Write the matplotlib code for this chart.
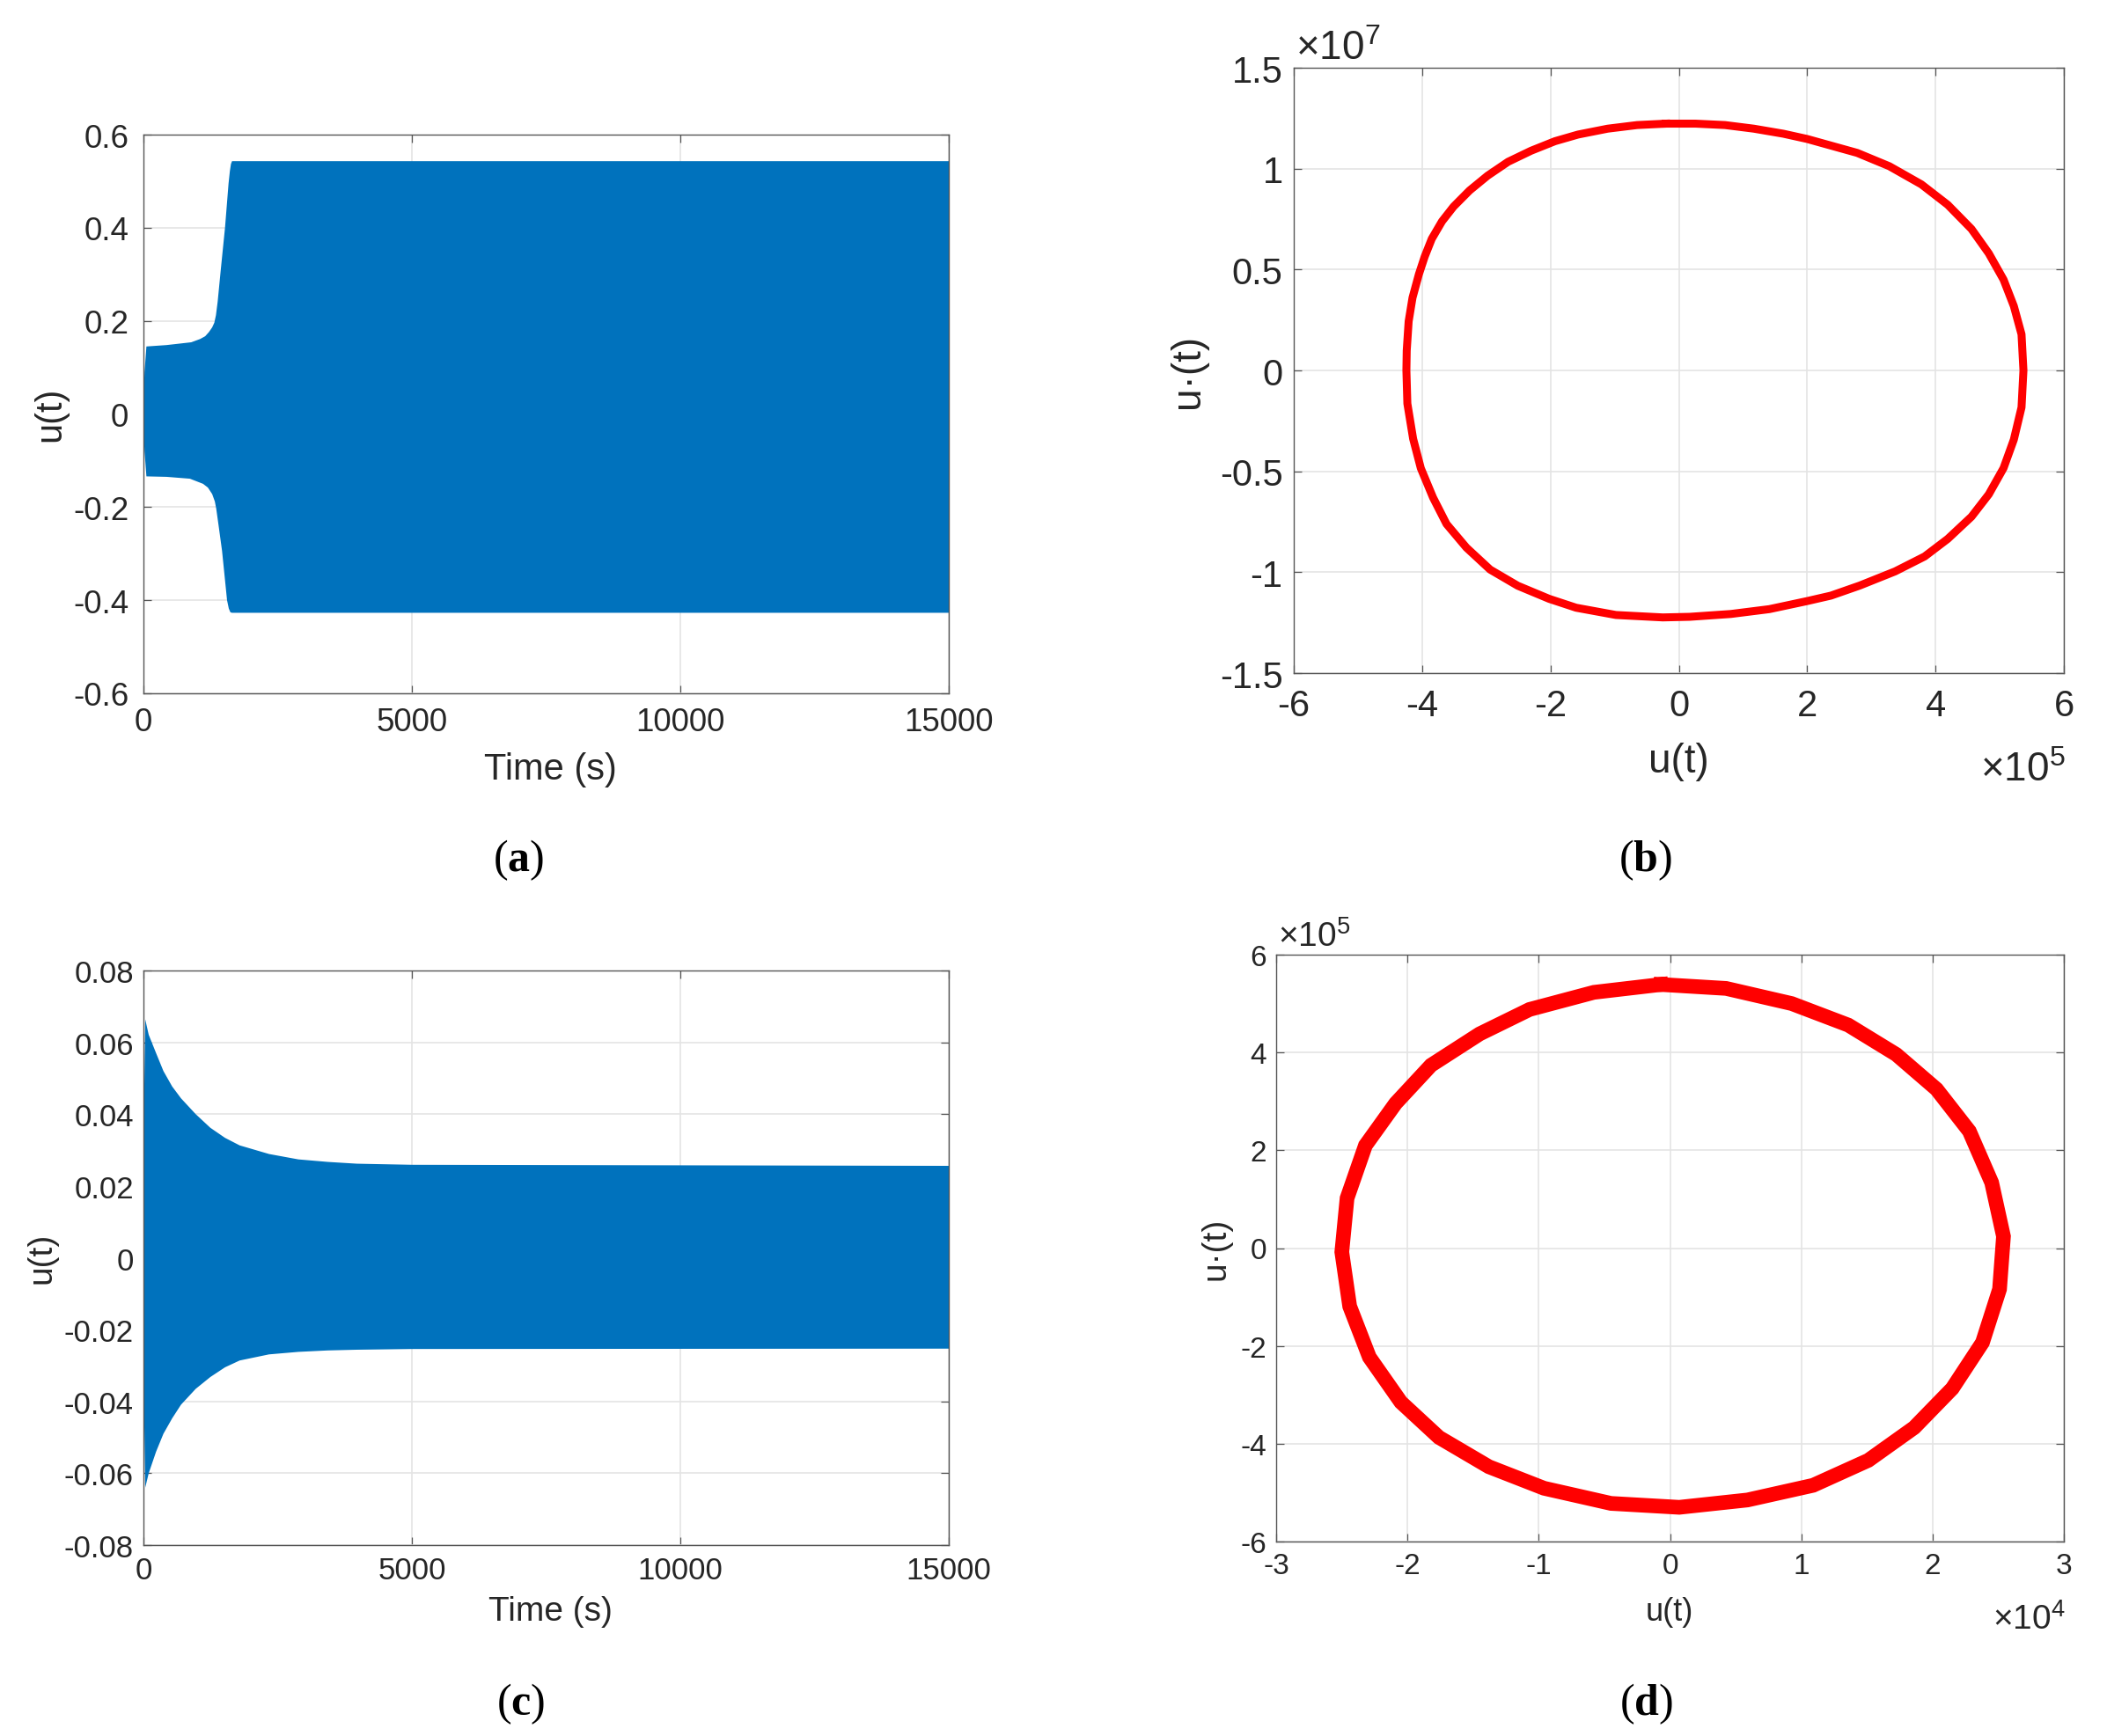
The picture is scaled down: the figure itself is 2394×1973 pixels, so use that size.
import matplotlib
matplotlib.use('Agg')
import matplotlib.pyplot as plt
import numpy as np

plt.rcParams['font.family'] = ['Liberation Sans', 'DejaVu Sans']
plt.rcParams['axes.unicode_minus'] = False
plt.rcParams['mathtext.fontset'] = 'custom'
plt.rcParams['mathtext.rm'] = 'Liberation Serif'
plt.rcParams['mathtext.bf'] = 'Liberation Serif:bold'

# (a) envelope of the dense u(t) oscillation
a_t_upper = [0, 20, 55, 430, 890, 1055, 1150, 1220, 1280, 1320, 1350, 1382, 1437, 1519, 1585, 1610, 1630, 1650, 15000]
a_u_upper = [0.02, 0.09, 0.145, 0.148, 0.154, 0.161, 0.167, 0.176, 0.186, 0.196, 0.212, 0.241, 0.306, 0.400,
             0.495, 0.522, 0.537, 0.543, 0.543]
a_t_lower = [0, 20, 55, 430, 865, 1110, 1200, 1280, 1330, 1355, 1400, 1464, 1557, 1590, 1620, 1650, 15000]
a_u_lower = [-0.02, -0.08, -0.134, -0.135, -0.139, -0.150, -0.158, -0.172, -0.188, -0.203, -0.240, -0.294,
             -0.400, -0.418, -0.426, -0.427, -0.427]

# (b) phase portrait, u in 1e5, u' in 1e7
b_u = [-0.20, 0.26, 0.72, 1.17, 1.63, 2.0, 2.78, 3.28, 3.78, 4.19, 4.56, 4.83, 5.06, 5.22, 5.34, 5.37,
       5.34, 5.22, 5.06, 4.83, 4.56, 4.19, 3.83, 3.37, 2.82, 2.37, 2.0, 1.41, 0.81, 0.17, -0.25,
       -0.98, -1.60, -2.02, -2.51, -2.94, -3.31, -3.62, -3.83, -4.02, -4.14, -4.23, -4.245,
       -4.24, -4.21, -4.15, -4.05, -3.96, -3.85, -3.69, -3.51, -3.26, -2.98, -2.66, -2.30, -1.93,
       -1.57, -1.11, -0.65, -0.20]
b_du = [1.223, 1.223, 1.216, 1.198, 1.173, 1.147, 1.078, 1.012, 0.922, 0.821, 0.701, 0.580, 0.450, 0.319, 0.179, 0.0,
        -0.183, -0.343, -0.484, -0.614, -0.725, -0.835, -0.922, -0.996, -1.066, -1.116, -1.143, -1.183, -1.207, -1.221, -1.224,
        -1.212, -1.176, -1.132, -1.067, -0.987, -0.878, -0.761, -0.63, -0.485, -0.339, -0.164, 0.0,
        0.098, 0.243, 0.36, 0.477, 0.564, 0.652, 0.739, 0.812, 0.892, 0.965, 1.034, 1.089, 1.136,
        1.169, 1.198, 1.216, 1.223]

# (c) envelope of decaying u(t)
c_t = [0, 33, 98, 235, 372, 535, 700, 973, 1246, 1519, 1792, 2339, 2885, 3432, 3978, 5000, 15000]
c_u_upper = [0.03, 0.0664, 0.0621, 0.057, 0.052, 0.0477, 0.0444, 0.040, 0.0362, 0.0334, 0.0313,
             0.0289, 0.0274, 0.0267, 0.0262, 0.0259, 0.0256]
c_u_lower = [-0.03, -0.064, -0.060, -0.054, -0.049, -0.0447, -0.0409, -0.0365, -0.0332, -0.0305, -0.0286,
             -0.0269, -0.0262, -0.0258, -0.0256, -0.0254, -0.0253]

# (d) phase portrait, u in 1e4, u' in 1e5
d_u = [-0.069, 0.427, 0.927, 1.358, 1.723, 2.03, 2.28, 2.45, 2.54, 2.51, 2.38, 2.15, 1.86, 1.51, 1.09,
       0.59, 0.07, -0.45, -0.96, -1.38, -1.76, -2.05, -2.29, -2.44, -2.50, -2.46, -2.32, -2.09, -1.82,
       -1.45, -1.07, -0.58, -0.069]
d_du = [5.39, 5.31, 5.00, 4.56, 3.96, 3.25, 2.39, 1.34, 0.24, -0.84, -1.93, -2.87, -3.67, -4.34, -4.85,
        -5.15, -5.30, -5.22, -4.91, -4.47, -3.87, -3.15, -2.23, -1.19, -0.08, 1.02, 2.10, 2.96, 3.74,
        4.38, 4.88, 5.23, 5.39]

W, H = 2394, 1974
BLUE = '#0072BD'
TXT = '#262626'

fig = plt.figure(figsize=(W / 100, H / 100), dpi=100)


def box(l, t, r, b):
    return [l / W, 1 - b / H, (r - l) / W, (b - t) / H]


def fmt(v, _):
    s = f"{round(v, 6):g}"
    return "0" if s == "-0" else s


def style(ax, size, padx, pady):
    ax.set_axisbelow(True)
    ax.grid(True, color='#e4e4e4', linewidth=1.2)
    for s in ax.spines.values():
        s.set_color('#555555')
        s.set_linewidth(1.0)
    ax.tick_params(direction='in', top=True, right=True, length=6.5, width=0.9,
                   color='#555555', labelsize=size, labelcolor=TXT)
    ax.tick_params(axis='x', pad=padx)
    ax.tick_params(axis='y', pad=pady)
    ax.xaxis.set_major_formatter(plt.FuncFormatter(fmt))
    ax.yaxis.set_major_formatter(plt.FuncFormatter(fmt))


def ftext(x, y, s, color=TXT, **kw):
    fig.text(x / W, 1 - y / H, s, color=color, **kw)


# (a)
ax = fig.add_axes(box(163, 154, 1078, 789))
ax.fill(np.r_[a_t_upper, a_t_lower[::-1]], np.r_[a_u_upper, a_u_lower[::-1]],
        color=BLUE, linewidth=0)
ax.set_xlim(0, 15000)
ax.set_ylim(-0.6, 0.6)
ax.set_xticks([0, 5000, 10000, 15000])
ax.set_yticks(np.arange(-0.6, 0.61, 0.2))
style(ax, 26.5, 11, 12)
ftext(625, 855, 'Time (s)', fontsize=30, ha='center', va='top')
ftext(57, 471, 'u(t)', fontsize=30, ha='center', va='center', rotation=90)

# (b)
ax = fig.add_axes(box(1470, 78, 2345, 766))
ax.plot(b_u, b_du, color='#ff0000', linewidth=6.5, solid_joinstyle='round')
ax.set_xlim(-6, 6)
ax.set_ylim(-1.5, 1.5)
ax.set_xticks(np.arange(-6, 7, 2))
ax.set_yticks(np.arange(-1.5, 1.6, 0.5))
style(ax, 30, 12, 9)
ftext(1907, 844, 'u(t)', fontsize=33, ha='center', va='top')
ftext(1350, 422, 'u·(t)', fontsize=33, ha='center', va='center', rotation=90)
ftext(1472, 68, r'×$\mathregular{10^{7}}$', fontsize=33, ha='left', va='baseline')
ftext(2347, 888, r'×$\mathregular{10^{5}}$', fontsize=33, ha='right', va='baseline')

# (c)
ax = fig.add_axes(box(163, 1104, 1078, 1757))
ax.fill(np.r_[c_t, c_t[::-1]], np.r_[c_u_upper, c_u_lower[::-1]], color=BLUE, linewidth=0)
ax.set_xlim(0, 15000)
ax.set_ylim(-0.08, 0.08)
ax.set_xticks([0, 5000, 10000, 15000])
ax.set_yticks(np.arange(-0.08, 0.081, 0.02))
style(ax, 25, 9, 8)
ftext(625, 1814, 'Time (s)', fontsize=28, ha='center', va='top')
ftext(48, 1430, 'u(t)', fontsize=28, ha='center', va='center', rotation=90)

# (d)
ax = fig.add_axes(box(1450, 1086, 2345, 1753))
ax.plot(d_u, d_du, color='#ff0000', linewidth=12, solid_joinstyle='miter')
ax.set_xlim(-3, 3)
ax.set_ylim(-6, 6)
ax.set_xticks(np.arange(-3, 4, 1))
ax.set_yticks(np.arange(-6, 7, 2))
style(ax, 24, 9, 8)
ftext(1897, 1815, 'u(t)', fontsize=26, ha='center', va='top')
ftext(1381, 1419, 'u·(t)', fontsize=28, ha='center', va='center', rotation=90)
ftext(1452, 1076, r'×$\mathregular{10^{5}}$', fontsize=28, ha='left', va='baseline')
ftext(2347, 1852, r'×$\mathregular{10^{4}}$', fontsize=28, ha='right', va='baseline')

# panel letters
for x, y, s in [(589, 978, 'a'), (1869, 978, 'b'), (592, 1937, 'c'), (1870, 1937, 'd')]:
    ftext(x, y, r'$(\mathbf{' + s + r'})$', fontsize=36, ha='center', va='center', color='black')

fig.savefig('out.png', dpi=100, facecolor='white')
